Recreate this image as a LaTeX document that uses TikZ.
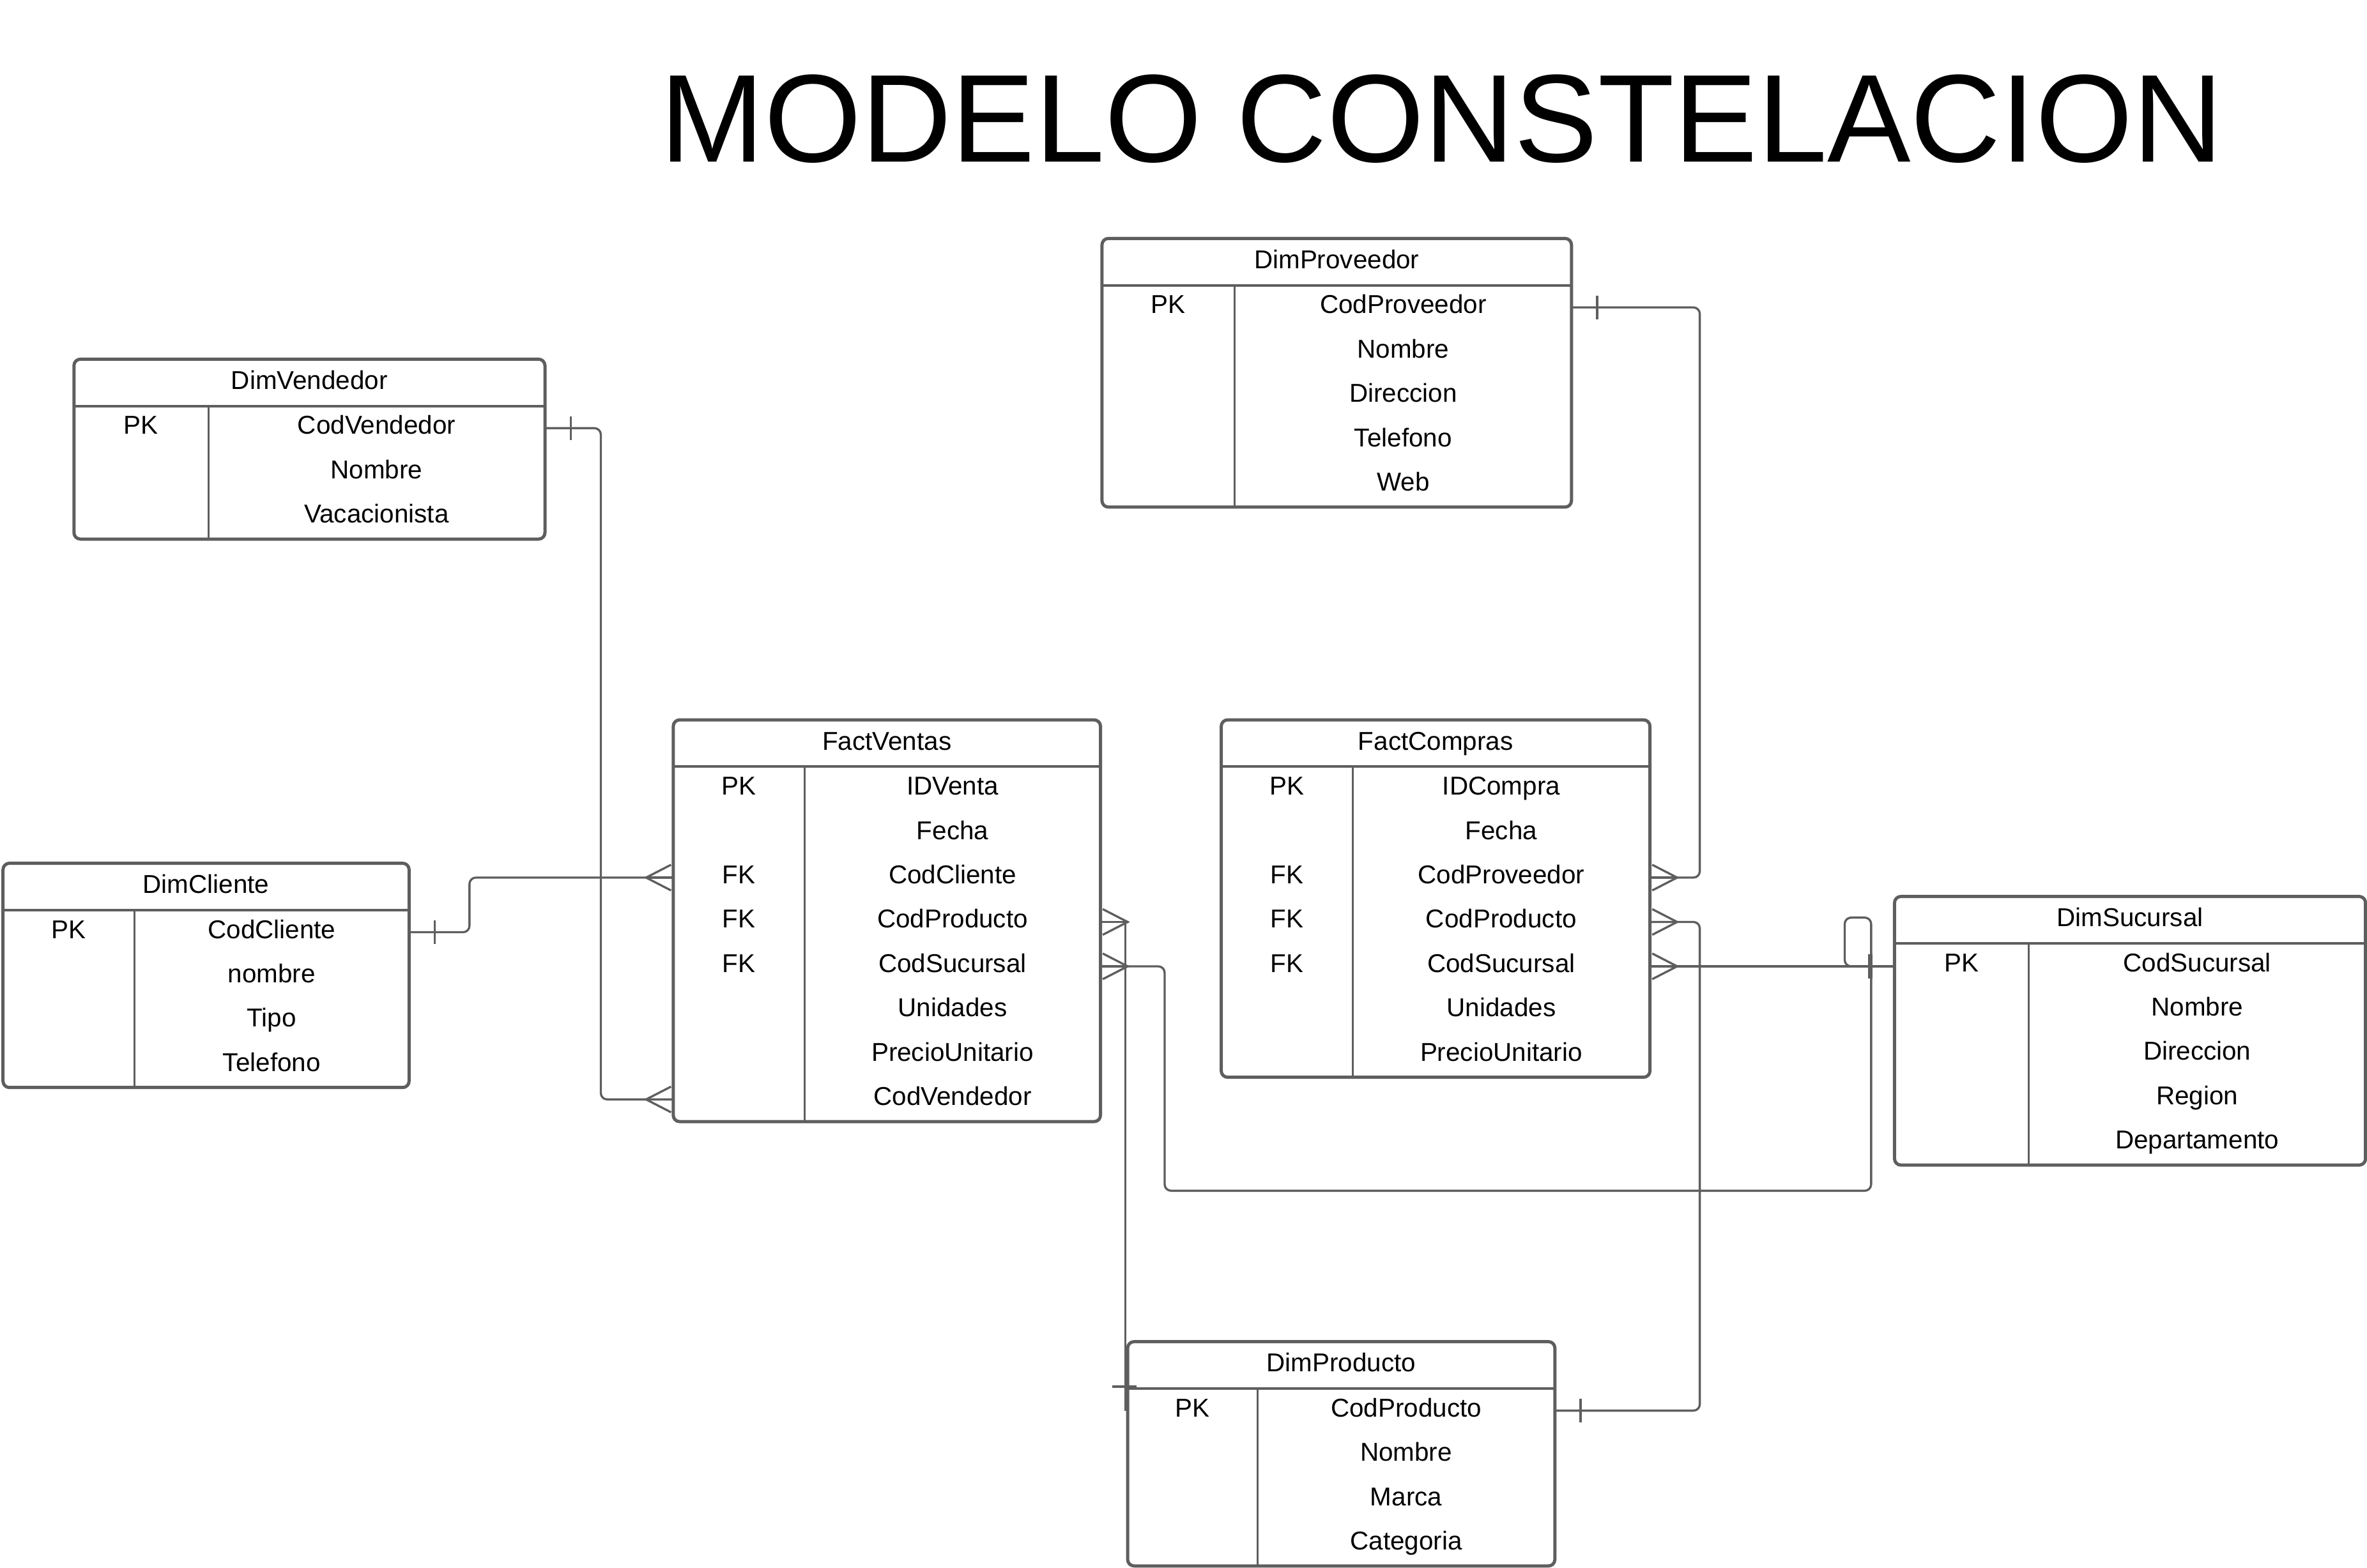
\documentclass[tikz,border=0pt]{standalone}
\usepackage{fontspec}
\setmainfont{Liberation Sans}
\definecolor{lc}{HTML}{5E5E5E}
\def\pxu{0.02363cm}
\tikzset{
  x=0.02363cm, y=-0.02363cm,
  tblbox/.style={draw=lc, line width=1.42pt, rounded corners=0.1cm, fill=white, inner sep=0pt, outer sep=0pt},
  hdrline/.style={draw=lc, line width=1.15pt},
  divline/.style={draw=lc, line width=0.9pt},
  cell/.style={inner sep=0pt, outer sep=0pt, anchor=center, text height=0.300cm, text depth=0.111cm, font=\fontsize{11.5}{13}\selectfont, text=black},
  conn/.style={draw=lc, line width=0.95pt, rounded corners=0.1cm},
  crow/.style={draw=lc, line width=0.95pt},
  tick/.style={draw=lc, line width=0.95pt},
  bigtick/.style={draw=lc, line width=1.8pt},
  titlefont/.style={inner sep=0pt, anchor=base west, font=\fontsize{55.7}{60}\selectfont, text=black}
}
% #1 name, #2 left, #3 top, #4 right, #5 divider x, #6 title, #7 rows, #8 number of rows
\newcommand{\ertable}[8]{%
  \pgfmathsetmacro{\tbh}{31+#8*29.4}%
  \node[tblbox, anchor=north west, minimum width={(#4-#2)*\pxu}, minimum height={\tbh*\pxu}] (#1) at (#2,#3) {};
  \draw[hdrline] (#2,{#3+31}) -- (#4,{#3+31});
  \draw[divline] (#5,{#3+31}) -- (#5,{#3+\tbh});
  \node[cell] (#1-t) at ({(#2+#4)/2},{#3+16}) {#6};
  \foreach \k/\v [count=\i] in {#7}{%
    \node[cell] (#1-\i) at ({(#5+#4)/2},{#3+31+(\i-0.5)*29.4}) {\v};
    \ifx\k\empty\else\node[cell] (#1-k\i) at ({(#2+#5)/2},{#3+31+(\i-0.5)*29.4}) {\k};\fi
  }%
}
\newcommand{\crowR}[1]{%
  \draw[crow] (#1) ++(1.5,-8.5) -- ++(16.5,8.5) -- ++(-16.5,8.5);
  \draw[crow] (#1) -- ++(18,0);
}
\newcommand{\crowL}[1]{%
  \draw[crow] (#1) ++(-1.5,-8.5) -- ++(-16.5,8.5) -- ++(16.5,8.5);
  \draw[crow] (#1) -- ++(-18,0);
}
\begin{document}
\begin{tikzpicture}
\fill[white] (0,0) rectangle (1568,1038.6);
\useasboundingbox (0,0) rectangle (1568,1038.6);

\node[titlefont] (title) at (437,107.2) {MODELO CONSTELACION};

\ertable{dp}{730}{158}{1041}{818}{DimProveedor}{PK/CodProveedor,/Nombre,/Direccion,/Telefono,/Web}{5}
\ertable{dv}{49}{238}{361}{138}{DimVendedor}{PK/CodVendedor,/Nombre,/Vacacionista}{3}
\ertable{fv}{446}{477}{729}{533}{FactVentas}{PK/IDVenta,/Fecha,FK/CodCliente,FK/CodProducto,FK/CodSucursal,/Unidades,/PrecioUnitario,/CodVendedor}{8}
\ertable{fc}{809}{477}{1093}{896}{FactCompras}{PK/IDCompra,/Fecha,FK/CodProveedor,FK/CodProducto,FK/CodSucursal,/Unidades,/PrecioUnitario}{7}
\ertable{dc}{2}{572}{271}{89}{DimCliente}{PK/CodCliente,/nombre,/Tipo,/Telefono}{4}
\ertable{ds}{1255}{594}{1567}{1344}{DimSucursal}{PK/CodSucursal,/Nombre,/Direccion,/Region,/Departamento}{5}
\ertable{dpr}{747}{889}{1030}{833}{DimProducto}{PK/CodProducto,/Nombre,/Marca,/Categoria}{4}

% DimVendedor -> FactVentas
\draw[conn] (dv.east |- dv-1) -- ++(37,0) |- (fv.west |- fv-8);
\draw[tick] (dv.east |- dv-1) ++(17,-7.8) -- ++(0,15.6);
\crowL{fv.west |- fv-8}

% DimCliente -> FactVentas
\draw[conn] (dc.east |- dc-1) -- ++(40,0) |- (fv.west |- fv-3);
\draw[tick] (dc.east |- dc-1) ++(17,-7.8) -- ++(0,15.6);
\crowL{fv.west |- fv-3}

% DimProveedor -> FactCompras
\draw[conn] (dp.east |- dp-1) -- ++(85,0) |- (fc.east |- fc-3);
\draw[tick] (dp.east |- dp-1) ++(17,-7.8) -- ++(0,15.6);
\crowR{fc.east |- fc-3}

% DimProducto -> FactCompras
\draw[conn] (dpr.east |- dpr-1) -- ++(96,0) |- (fc.east |- fc-4);
\draw[tick] (dpr.east |- dpr-1) ++(17,-7.8) -- ++(0,15.6);
\crowR{fc.east |- fc-4}

% FactCompras -> DimSucursal
\draw[conn] (fc.east |- fc-5) -- (ds.west |- fc-5);
\crowR{fc.east |- fc-5}
\draw[bigtick] (ds.west |- fc-5) ++(-16,-8) -- ++(0,16);

% FactVentas -> DimSucursal
\draw[conn] (fv.east |- fv-5) -- ++(42.5,0) -- ++(0,148.7) -- ++(468,0) -- ++(0,-181) -- ++(-17.5,0) -- ++(0,32.3) -- (ds.west |- fv-5);
\crowR{fv.east |- fv-5}

% FactVentas -> DimProducto
\draw[conn] (fv.east |- fv-4) ++(16.5,0) coordinate (vp) -- (vp |- dpr-1);
\crowR{fv.east |- fv-4}
\draw[tick] (dpr.north west) ++(-10,29.8) -- ++(16,0);
\end{tikzpicture}
\end{document}
